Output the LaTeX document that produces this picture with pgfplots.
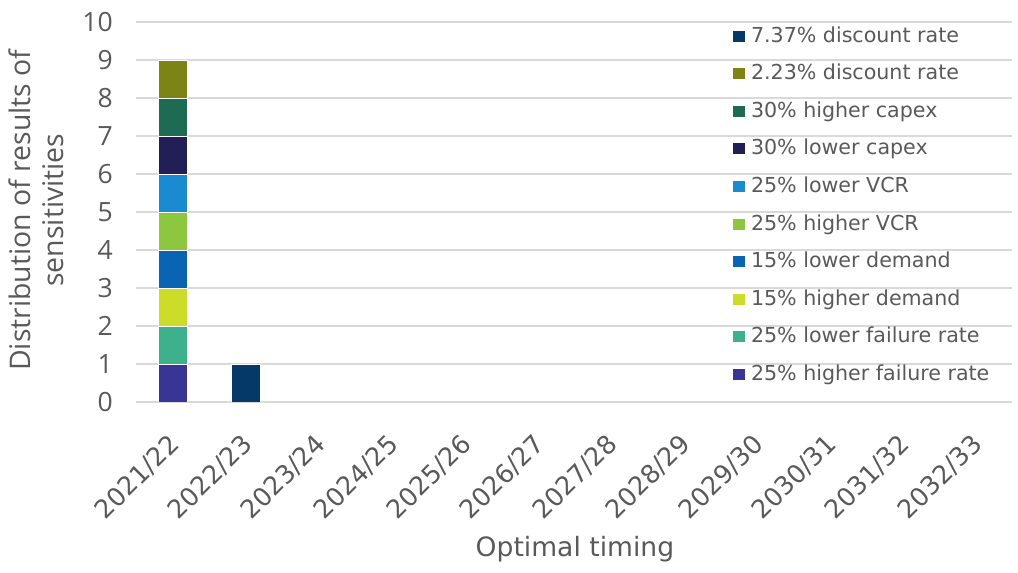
\documentclass[border=0pt]{standalone}
\usepackage{fontspec}
\usepackage{pgfplots}
\pgfplotsset{compat=1.18}
\setmainfont{DejaVu Sans}
\newfontfamily\numfont{Open Sans}

\definecolor{textgray}{HTML}{595959}
\definecolor{gridgray}{HTML}{D9D9D9}
\definecolor{cHFail}{HTML}{383594}
\definecolor{cLFail}{HTML}{3DB08C}
\definecolor{cHDem}{HTML}{CDDC29}
\definecolor{cLDem}{HTML}{0A64B4}
\definecolor{cHVCR}{HTML}{8DC63F}
\definecolor{cLVCR}{HTML}{1A8BD0}
\definecolor{cLCap}{HTML}{211F56}
\definecolor{cHCap}{HTML}{1E6B54}
\definecolor{cDLow}{HTML}{7D8416}
\definecolor{cDHigh}{HTML}{053A68}

\begin{document}
\begin{tikzpicture}
\useasboundingbox (0,0) rectangle (1018pt,573pt);
\begin{axis}[
  at={(136pt,171pt)}, anchor=south west,
  width=876pt, height=380pt, scale only axis,
  ybar stacked, bar width=29pt,
  xmin=-0.5, xmax=11.5, ymin=0, ymax=10,
  xtick={0,...,11},
  xticklabels={2021/22,2022/23,2023/24,2024/25,2025/26,2026/27,2027/28,2028/29,2029/30,2030/31,2031/32,2032/33},
  ytick={0,...,10},
  /pgf/number format/assume math mode=true,
  axis line style={draw=none},
  major tick length=0pt,
  ymajorgrids,
  grid style={draw=gridgray, line width=1.6pt},
  yticklabel style={font=\numfont\fontsize{26.5}{30}\selectfont, text=textgray,
    anchor=east, inner sep=0pt, xshift=-23pt},
  xticklabel style={font=\fontsize{25.5}{29}\selectfont, text=textgray,
    xshift=-5pt, yshift=-30pt, rotate=45, anchor=north east, inner sep=0pt},
  xlabel={Optimal timing},
  xlabel style={font=\fontsize{26.6}{30}\selectfont, text=textgray,
    at={(axis description cs:0.5011,-0.407)}, anchor=base},
  ylabel={Distribution of results of\\sensitivities},
  ylabel style={font=\numfont\fontsize{28.4}{33}\selectfont, text=textgray,
    align=center, at={(axis description cs:-0.1135,0.505)}, anchor=center},
  legend cell align=left,
  reverse legend,
  legend image code/.code={\fill[#1,draw=none] (0pt,-5pt) rectangle (12pt,6pt);},
  legend style={at={(axis description cs:0.6815,0.989)}, anchor=north west,
    draw=none, fill=none, font=\fontsize{20.6}{24}\selectfont, text=textgray,
    row sep=16.6pt, inner sep=0pt, outer sep=0pt,
    nodes={inner sep=0pt, text height=16pt, text depth=5pt},
    /tikz/every odd column/.append style={column sep=6pt}},
  every axis plot/.append style={draw=white, line width=0.4pt},
]
% bottom to top of the stack
\addplot[fill=cHFail]  coordinates {(0,1) (1,0)};
\addlegendentry{25\% higher failure rate}
\addplot[fill=cLFail]  coordinates {(0,1) (1,0)};
\addlegendentry{25\% lower failure rate}
\addplot[fill=cHDem]   coordinates {(0,1) (1,0)};
\addlegendentry{15\% higher demand}
\addplot[fill=cLDem]   coordinates {(0,1) (1,0)};
\addlegendentry{15\% lower demand}
\addplot[fill=cHVCR]   coordinates {(0,1) (1,0)};
\addlegendentry{25\% higher VCR}
\addplot[fill=cLVCR]   coordinates {(0,1) (1,0)};
\addlegendentry{25\% lower VCR}
\addplot[fill=cLCap]   coordinates {(0,1) (1,0)};
\addlegendentry{30\% lower capex}
\addplot[fill=cHCap]   coordinates {(0,1) (1,0)};
\addlegendentry{30\% higher capex}
\addplot[fill=cDLow]   coordinates {(0,1) (1,0)};
\addlegendentry{2.23\% discount rate}
\addplot[fill=cDHigh]  coordinates {(0,0) (1,1)};
\addlegendentry{7.37\% discount rate}
\end{axis}
\end{tikzpicture}
\end{document}
